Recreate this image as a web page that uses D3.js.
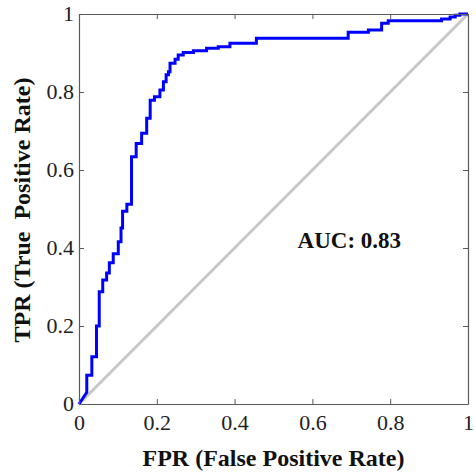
<!DOCTYPE html>
<html>
<head>
<meta charset="utf-8">
<script src="https://cdn.jsdelivr.net/npm/d3@7"></script>
<style>
  html, body { margin: 0; padding: 0; background: #fff; }
  svg { display: block; }
</style>
</head>
<body>
<script>
// ROC curve corner points (FPR, TPR)
const fpr = [0, 0.02, 0.02, 0.033, 0.033, 0.045, 0.045, 0.052, 0.052, 0.061, 0.061, 0.071, 0.071, 0.078, 0.078,
  0.088, 0.088, 0.101, 0.101, 0.108, 0.108, 0.112, 0.112, 0.123, 0.123, 0.135, 0.135, 0.147, 0.147, 0.161, 0.161,
  0.174, 0.174, 0.183, 0.183, 0.194, 0.194, 0.208, 0.208, 0.217, 0.217, 0.224, 0.224, 0.230, 0.230, 0.234, 0.234,
  0.247, 0.247, 0.255, 0.255, 0.268, 0.268, 0.294, 0.294, 0.328, 0.328, 0.358, 0.358, 0.388, 0.388, 0.456, 0.456,
  0.692, 0.692, 0.744, 0.744, 0.778, 0.778, 0.795, 0.795, 0.932, 0.932, 0.954, 0.954, 0.967, 0.967, 0.979, 0.979, 1];
const tpr = [0, 0.03, 0.074, 0.074, 0.121, 0.121, 0.2, 0.2, 0.288, 0.288, 0.318, 0.318, 0.336, 0.336, 0.362,
  0.362, 0.385, 0.385, 0.416, 0.416, 0.451, 0.451, 0.494, 0.494, 0.512, 0.512, 0.634, 0.634, 0.668, 0.668, 0.694,
  0.694, 0.733, 0.733, 0.779, 0.779, 0.788, 0.788, 0.805, 0.805, 0.826, 0.826, 0.844, 0.844, 0.852, 0.852, 0.874,
  0.874, 0.884, 0.884, 0.895, 0.895, 0.901, 0.901, 0.906, 0.906, 0.912, 0.912, 0.916, 0.916, 0.925, 0.925, 0.938,
  0.938, 0.953, 0.953, 0.959, 0.959, 0.976, 0.976, 0.983, 0.983, 0.987, 0.987, 0.992, 0.992, 0.997, 0.997, 1, 1];
const chanceX = [0, 1];
const chanceY = [0, 1];
const tickValues = [0, 0.2, 0.4, 0.6, 0.8, 1];
const tickLabels = ["0", "0.2", "0.4", "0.6", "0.8", "1"];
const xTitle = "FPR (False Positive Rate)";
const yTitle = "TPR (True\u00a0 Positive Rate)";
const aucLabel = "AUC: 0.83";

const W = 476, H = 473;
const L = 79, R = 468, T = 14, B = 404;
const axisColor = "#5a5a5a";
const serif = "'Liberation Serif', 'Times New Roman', serif";

const svg = d3.select("body").append("svg").attr("width", W).attr("height", H);

const x = d3.scaleLinear().domain([0, 1]).range([L, R]);
const y = d3.scaleLinear().domain([0, 1]).range([B, T]);

// chance diagonal
svg.append("path")
  .datum(chanceX.map((v, i) => [v, chanceY[i]]))
  .attr("d", d3.line().x(d => x(d[0])).y(d => y(d[1])))
  .attr("fill", "none").attr("stroke", "#c8c8c8").attr("stroke-width", 3);

// ROC curve
svg.append("path")
  .datum(fpr.map((v, i) => [v, tpr[i]]))
  .attr("d", d3.line().x(d => x(d[0])).y(d => y(d[1])))
  .attr("fill", "none").attr("stroke", "#0000ff").attr("stroke-width", 3)
  .attr("stroke-linejoin", "miter");

// axes (box with inward ticks)
function styleAxis(g) {
  g.attr("font-family", serif);
  g.selectAll(".domain").attr("stroke", axisColor).attr("stroke-width", 1.2);
  g.selectAll(".tick line").attr("stroke", axisColor).attr("stroke-width", 1);
  g.selectAll("text").attr("font-family", serif).attr("font-size", 22).attr("fill", "#222");
}
const fmt = (d, i) => tickLabels[i];

const xAxis = svg.append("g").attr("transform", `translate(0,${B})`)
  .call(d3.axisBottom(x).tickValues(tickValues).tickFormat(fmt).tickSizeInner(-5).tickSizeOuter(0).tickPadding(0));
styleAxis(xAxis);
xAxis.selectAll("text").attr("dy", null).attr("y", 26);

const xTop = svg.append("g").attr("transform", `translate(0,${T})`)
  .call(d3.axisTop(x).tickValues(tickValues).tickFormat("").tickSizeInner(-5).tickSizeOuter(0));
styleAxis(xTop);

const yAxis = svg.append("g").attr("transform", `translate(${L},0)`)
  .call(d3.axisLeft(y).tickValues(tickValues).tickFormat(fmt).tickSizeInner(-5).tickSizeOuter(0).tickPadding(0));
styleAxis(yAxis);
yAxis.selectAll("text").attr("x", -5).attr("dy", null).attr("y", 6);

const yRight = svg.append("g").attr("transform", `translate(${R},0)`)
  .call(d3.axisRight(y).tickValues(tickValues).tickFormat("").tickSizeInner(-5).tickSizeOuter(0));
styleAxis(yRight);

// titles
svg.append("text")
  .attr("x", (L + R) / 2).attr("y", 466)
  .attr("text-anchor", "middle")
  .attr("font-family", serif).attr("font-weight", "bold").attr("font-size", 24)
  .attr("fill", "#111")
  .text(xTitle);

svg.append("text")
  .attr("transform", `translate(30,${(T + B) / 2 + 1}) rotate(-90)`)
  .attr("text-anchor", "middle")
  .attr("font-family", serif).attr("font-weight", "bold").attr("font-size", 24)
  .attr("fill", "#111")
  .text(yTitle);

// AUC annotation
svg.append("text")
  .attr("x", x(0.562)).attr("y", y(0.4))
  .attr("font-family", serif).attr("font-weight", "bold").attr("font-size", 23)
  .attr("fill", "#111")
  .text(aucLabel);
</script>
</body>
</html>
